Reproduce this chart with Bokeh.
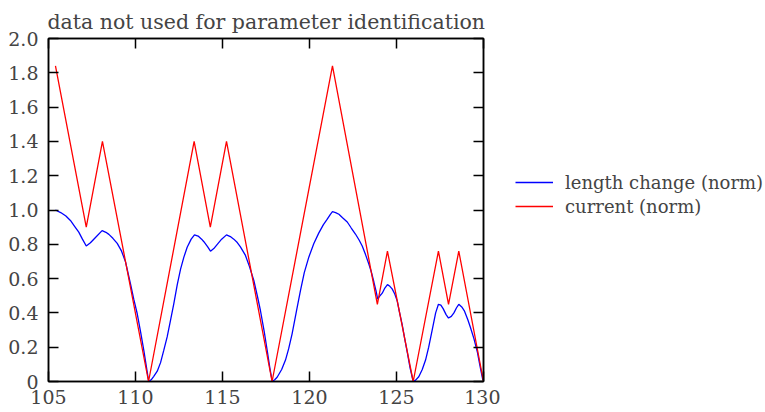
from bokeh.plotting import figure
from bokeh.models import Range1d, LinearAxis, FixedTicker, Legend, LegendItem
from bokeh.layouts import row
from bokeh.embed import file_html
from bokeh.resources import INLINE

# ---- data ----
length_x = [105.40, 105.7, 106.0, 106.26, 106.5, 106.74, 106.95, 107.17, 107.41, 107.7,
            108.08, 108.3, 108.47, 108.7, 108.95, 109.2, 109.43, 109.71, 109.9, 110.1,
            110.3, 110.48, 110.62, 110.76, 110.9, 111.05, 111.25, 111.44, 111.62, 111.82,
            112.0, 112.2, 112.4, 112.59, 112.78, 112.97, 113.2, 113.39, 113.6, 113.8,
            113.93, 114.15, 114.31, 114.5, 114.7, 114.95, 115.23, 115.45, 115.65, 115.85,
            116.03, 116.32, 116.55, 116.8, 117.0, 117.18, 117.4, 117.57, 117.72, 117.86,
            118.0, 118.14, 118.4, 118.62, 118.8, 119.0, 119.25, 119.48, 119.7, 119.96,
            120.25, 120.53, 120.8, 121.01, 121.2, 121.32, 121.5, 121.69, 121.9, 122.17,
            122.4, 122.64, 122.85, 123.03, 123.22, 123.41, 123.55, 123.7, 123.82, 123.92,
            124.05, 124.18, 124.33, 124.48, 124.62, 124.75, 124.9, 125.04, 125.18, 125.33,
            125.47, 125.61, 125.78, 125.96, 126.1, 126.28, 126.48, 126.67, 126.85, 127.05,
            127.25, 127.41, 127.55, 127.68, 127.85, 127.99, 128.15, 128.3, 128.45, 128.58,
            128.75, 128.91, 129.1, 129.25, 129.45, 129.64, 129.8, 129.96]
length_y = [1.000, 0.985, 0.965, 0.939, 0.905, 0.871, 0.83, 0.790, 0.809, 0.84,
            0.880, 0.870, 0.858, 0.835, 0.805, 0.76, 0.696, 0.570, 0.48, 0.395,
            0.285, 0.180, 0.09, 0.0, 0.01, 0.03, 0.06, 0.11, 0.18, 0.26,
            0.35, 0.453, 0.565, 0.655, 0.725, 0.783, 0.83, 0.855, 0.848, 0.83,
            0.815, 0.785, 0.760, 0.775, 0.800, 0.830, 0.855, 0.845, 0.83, 0.81,
            0.785, 0.735, 0.67, 0.589, 0.50, 0.414, 0.29, 0.18, 0.08, 0.0,
            0.01, 0.025, 0.07, 0.125, 0.19, 0.278, 0.41, 0.53, 0.635, 0.725,
            0.805, 0.865, 0.915, 0.945, 0.975, 0.990, 0.985, 0.975, 0.955, 0.930,
            0.895, 0.860, 0.825, 0.790, 0.74, 0.685, 0.64, 0.58, 0.53, 0.480,
            0.50, 0.515, 0.545, 0.565, 0.555, 0.540, 0.51, 0.470, 0.40, 0.330,
            0.25, 0.175, 0.08, 0.0, 0.008, 0.028, 0.07, 0.125, 0.2, 0.300,
            0.40, 0.450, 0.445, 0.425, 0.39, 0.370, 0.38, 0.400, 0.43, 0.450,
            0.435, 0.410, 0.36, 0.315, 0.25, 0.175, 0.09, 0.01]

current_x = [105.4, 107.17, 108.1, 110.75, 113.37, 114.3, 115.23, 117.85, 121.32,
             123.9, 124.48, 125.96, 127.41, 127.99, 128.58, 130.0]
current_y = [1.84, 0.90, 1.40, 0.0, 1.40, 0.90, 1.40, 0.0, 1.84,
             0.45, 0.76, 0.0, 0.76, 0.45, 0.76, 0.0]

x_ticks = [105, 110, 115, 120, 125, 130]
y_ticks = [0, 0.2, 0.4, 0.6, 0.8, 1.0, 1.2, 1.4, 1.6, 1.8, 2.0]
y_tick_labels = ["0", "0.2", "0.4", "0.6", "0.8", "1.0", "1.2", "1.4", "1.6", "1.8", "2.0"]
title_text = "data not used for parameter identification"
series_names = ["length change (norm)", "current (norm)"]
series_colors = ["#0000ff", "#ff0000"]

FONT = "DejaVu Serif"
FS = "19px"
LFS = "18px"

p = figure(frame_width=435, frame_height=343, output_backend="svg", toolbar_location=None,
           x_range=Range1d(105, 130), y_range=Range1d(0, 2.0),
           min_border_left=48, min_border_right=17, min_border_top=38, min_border_bottom=31,
           title=title_text)
p.title.text_font = FONT
p.title.text_font_size = "20.5px"
p.title.text_font_style = "normal"
p.title.align = "left"
p.title.offset = -1
p.title.standoff = 10
p.outline_line_color = "black"
p.outline_line_width = 1.5
p.grid.visible = False
p.background_fill_color = "white"
p.border_fill_color = "white"

def style_axis(ax, ticks, labels=True):
    ax.ticker = FixedTicker(ticks=ticks)
    ax.axis_line_color = "black"
    ax.axis_line_width = 1.5
    ax.major_tick_in = 10
    ax.major_tick_out = 0
    ax.minor_tick_line_color = None
    ax.major_tick_line_color = "black"
    ax.major_tick_line_width = 1.5
    ax.major_label_text_font = FONT
    ax.major_label_text_font_size = FS
    ax.major_label_standoff = 10
    if not labels:
        ax.major_label_overrides = {t: "" for t in ticks}
        ax.major_label_text_font_size = "1px"
        ax.major_label_text_color = None
        ax.major_label_standoff = 0

xax = p.xaxis[0]
style_axis(xax, x_ticks)
xax.major_label_standoff = 8
yax = p.yaxis[0]
style_axis(yax, y_ticks)
yax.major_label_overrides = {t: l for t, l in zip(y_ticks, y_tick_labels)}

top = LinearAxis()
style_axis(top, x_ticks, labels=False)
p.add_layout(top, "above")
right = LinearAxis()
style_axis(right, y_ticks, labels=False)
p.add_layout(right, "right")

p.line(length_x, length_y, line_color=series_colors[0], line_width=1.3)
p.line(current_x, current_y, line_color=series_colors[1], line_width=1.3)

# legend panel (separate canvas to the right of the plot); proxy lines lie outside its view
lg = figure(width=265, height=412, output_backend="svg", toolbar_location=None,
            x_axis_type=None, y_axis_type=None, min_border=0,
            x_range=Range1d(0, 1), y_range=Range1d(0, 1))
lg.outline_line_color = None
lg.grid.visible = False
proxies = [lg.line([-3, -2], [-3, -2], line_color=c, line_width=1.3) for c in series_colors]
legend = Legend(items=[LegendItem(label=n, renderers=[r]) for n, r in zip(series_names, proxies)],
                location=(15, 163), border_line_color=None, background_fill_alpha=0,
                label_text_font=FONT, label_text_font_size=LFS,
                glyph_width=38, glyph_height=24, label_height=24, label_standoff=12,
                spacing=0, padding=0, margin=0)
lg.add_layout(legend, "center")

layout = row(p, lg, spacing=0)
open("out.html", "w").write(file_html(layout, INLINE))
